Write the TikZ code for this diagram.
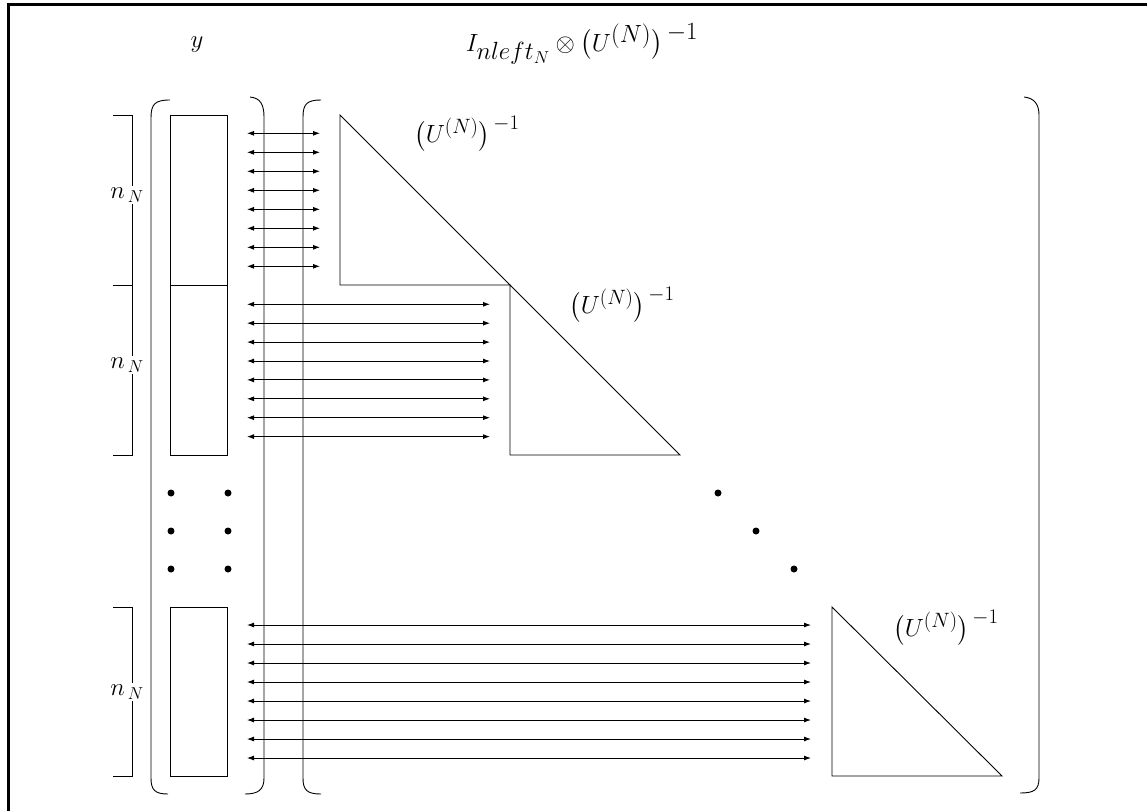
\documentclass[tikz,border=0pt]{standalone}
\usepackage{amsmath}
\usetikzlibrary{arrows.meta}
\begin{document}
\begin{tikzpicture}[x=1pt,y=-1pt,line width=0.9pt,
  bus/.style={{Latex[length=7pt,width=5pt]}-{Latex[length=7pt,width=5pt]},line width=0.9pt},
  lbl/.style={font=\fontsize{26}{30}\selectfont,inner sep=0pt},
  ulbl/.style={font=\fontsize{30}{34}\selectfont,inner sep=0pt},
  tlbl/.style={font=\fontsize{37}{42}\selectfont,inner sep=0pt},
  nlbl/.style={font=\fontsize{26}{30}\selectfont,inner sep=1.5pt,fill=white},
  bigdot/.style={circle,fill,inner sep=0pt,minimum size=7pt},
  frame/.style={line width=3pt}]
\useasboundingbox (0,0) rectangle (1147,811);
% frame
\draw[frame] (8,811) -- (8,4) -- (1147,4);
% top labels
\node[lbl] (ylab) at (197,45) {$y$};
\node[tlbl] (toplab) at (582,44) {$I_{nleft_N}\otimes\bigl(U^{(N)}\bigr)^{\,-1}$};
% size brackets on the left
\foreach \t/\b/\m/\n in {115/285/195/s1,285/455/365/s2,607/776/692/s3}{
  \draw (113,\t) -- (132,\t) -- (132,\b) -- (113,\b);
  \node[nlbl] (\n) at (127,\m) {$n_{\,N}$};
}
% vector y brackets
\draw (170,100) .. controls (155,100) and (151,104) .. (151,118) -- (151,778) .. controls (151,790) and (155,794) .. (168,794);
\draw (250,97) .. controls (260,98) and (264,104) .. (264,117) -- (264,778) .. controls (264,790) and (258,794) .. (245,794);
% matrix brackets
\draw (321,100) .. controls (307,100) and (303,104) .. (303,117) -- (303,778) .. controls (303,790) and (307,794) .. (321,794);
\draw (1024,97) .. controls (1034,98) and (1039,104) .. (1039,115) -- (1039,778) .. controls (1039,790) and (1034,793) .. (1020,793);
% vector y blocks
\draw (170,115) rectangle (227,285);
\draw (170,285) rectangle (227,455);
\draw (170,607) rectangle (227,776);
\foreach \yy/\k in {493/1,531/2,569/3}{
  \node[bigdot] (vl\k) at (171,\yy) {};
  \node[bigdot] (vr\k) at (228,\yy) {};
}
% triangles
\draw (340,115) -- (510,285) -- (340,285) -- cycle;
\draw (510,285) -- (680,455) -- (510,455) -- cycle;
\draw (832,607) -- (1002,776) -- (832,776) -- cycle;
\node[bigdot] (d1) at (718,493) {};
\node[bigdot] (d2) at (756,531) {};
\node[bigdot] (d3) at (794,569) {};
% triangle labels
\node[ulbl] (u1) at (467,134) {$\bigl(U^{(N)}\bigr)^{\,-1}$};
\node[ulbl] (u2) at (622,305) {$\bigl(U^{(N)}\bigr)^{\,-1}$};
\node[ulbl] (u3) at (946,628) {$\bigl(U^{(N)}\bigr)^{\,-1}$};
% arrows
\foreach \i in {0,...,7}{
  \coordinate (aL\i) at (247,{133.3+19*\i});
  \coordinate (aR\i) at (320,{133.3+19*\i});
  \draw[bus] (aL\i) -- (aR\i);
  \coordinate (bL\i) at (247,{304.3+18.9*\i});
  \coordinate (bR\i) at (490,{304.3+18.9*\i});
  \draw[bus] (bL\i) -- (bR\i);
  \coordinate (cL\i) at (247,{625+19*\i});
  \coordinate (cR\i) at (811,{625+19*\i});
  \draw[bus] (cL\i) -- (cR\i);
}
\end{tikzpicture}
\end{document}
